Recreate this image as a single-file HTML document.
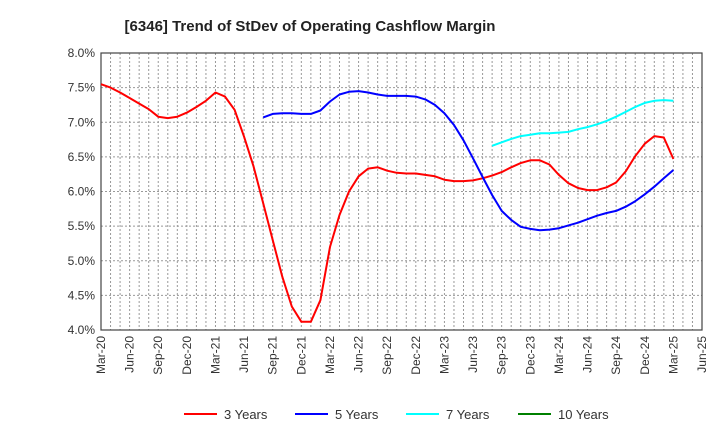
<!DOCTYPE html>
<html><head><meta charset="utf-8"><style>
body{margin:0;background:#fff;font-family:"Liberation Sans",Arial,sans-serif}
svg text{font-family:"Liberation Sans",Arial,sans-serif}
</style></head><body>
<svg id="chart" width="720" height="440" xmlns="http://www.w3.org/2000/svg">
<text x="310" y="31" text-anchor="middle" font-size="15" font-weight="bold" fill="#222">[6346]  Trend of StDev of Operating Cashflow Margin</text>
<g id="grid"></g><g id="axes"></g><g id="series"></g><g id="legend"></g>
</svg>
<script>
const yTicks=[4.0,4.5,5.0,5.5,6.0,6.5,7.0,7.5,8.0];
const xLabels=["Mar-20","Jun-20","Sep-20","Dec-20","Mar-21","Jun-21","Sep-21","Dec-21","Mar-22","Jun-22","Sep-22","Dec-22","Mar-23","Jun-23","Sep-23","Dec-23","Mar-24","Jun-24","Sep-24","Dec-24","Mar-25","Jun-25"];
const s3Start=0;
const s3=[7.55,7.50,7.43,7.35,7.27,7.19,7.08,7.06,7.08,7.14,7.22,7.31,7.43,7.37,7.18,6.79,6.36,5.83,5.30,4.77,4.34,4.12,4.12,4.43,5.20,5.66,6.00,6.22,6.33,6.35,6.30,6.27,6.26,6.26,6.24,6.22,6.17,6.15,6.15,6.16,6.19,6.23,6.28,6.35,6.41,6.45,6.45,6.39,6.24,6.12,6.05,6.02,6.02,6.06,6.13,6.29,6.51,6.69,6.80,6.78,6.47];
const s5Start=17;
const s5=[7.07,7.12,7.13,7.13,7.12,7.12,7.17,7.30,7.40,7.44,7.45,7.43,7.40,7.38,7.38,7.38,7.37,7.33,7.25,7.13,6.96,6.74,6.48,6.21,5.95,5.72,5.59,5.49,5.46,5.44,5.45,5.47,5.51,5.55,5.60,5.65,5.69,5.72,5.78,5.86,5.96,6.07,6.19,6.31];
const s7Start=41;
const s7=[6.66,6.71,6.76,6.80,6.82,6.84,6.84,6.85,6.86,6.90,6.93,6.97,7.02,7.08,7.15,7.22,7.28,7.31,7.32,7.31];
const s10Start=0;
const s10=[];
const legendNames=["3 Years","5 Years","7 Years","10 Years"];
const legendColors=["#ff0000","#0000ff","#00ffff","#008000"];

const L=101,R=702,T=53,B=330,NM=63;
const NS="http://www.w3.org/2000/svg";
const xs=m=>L+(R-L)*m/NM;
const ys=v=>B-(v-4)/(8-4)*(B-T);
function mk(tag,attrs,parent){const e=document.createElementNS(NS,tag);for(const k in attrs)e.setAttribute(k,attrs[k]);parent.appendChild(e);return e;}
const grid=document.getElementById('grid'),axes=document.getElementById('axes'),ser=document.getElementById('series'),leg=document.getElementById('legend');
for(let m=1;m<NM;m++){const l=mk('line',{x1:xs(m),x2:xs(m),y1:T,y2:B,stroke:'#999','stroke-dasharray':'2,2','stroke-width':1},grid);

}
yTicks.forEach(v=>{const l=mk('line',{x1:L,x2:R,y1:ys(v),y2:ys(v),stroke:'#999','stroke-dasharray':'2,2','stroke-width':1},grid);


const t=mk('text',{x:L-6,y:ys(v)+4,'text-anchor':'end','font-size':12,fill:'#333'},axes);t.textContent=v.toFixed(1)+'%';

});
const fr=mk('rect',{x:L,y:T,width:R-L,height:B-T,fill:'none',stroke:'#444','stroke-width':1.2},axes);


xLabels.forEach((s,i)=>{const x=xs(i*3);const t=mk('text',{x:0,y:0,'text-anchor':'end','font-size':12,fill:'#333',transform:`translate(${x+4},${B+6}) rotate(-90)`},axes);t.textContent=s;

});
function line(arr,start,color,name){if(!arr.length)return;const d=arr.map((v,i)=>(i?'L':'M')+xs(start+i).toFixed(1)+','+ys(v).toFixed(1)).join(' ');
const p=mk('path',{d:d,fill:'none',stroke:color,'stroke-width':2,'stroke-linejoin':'round'},ser);

}
line(s3,s3Start,legendColors[0],'series-3-years');
line(s5,s5Start,legendColors[1],'series-5-years');
line(s7,s7Start,legendColors[2],'series-7-years');
line(s10,s10Start,legendColors[3],'series-10-years');
const lx=[184,295,406,518];
legendNames.forEach((n,i)=>{const g=mk('g',{},leg);


mk('line',{x1:lx[i],x2:lx[i]+33,y1:414,y2:414,stroke:legendColors[i],'stroke-width':2},g);
const t=mk('text',{x:lx[i]+40,y:419,'font-size':13,fill:'#333'},g);t.textContent=n;});
</script>
</body></html>
